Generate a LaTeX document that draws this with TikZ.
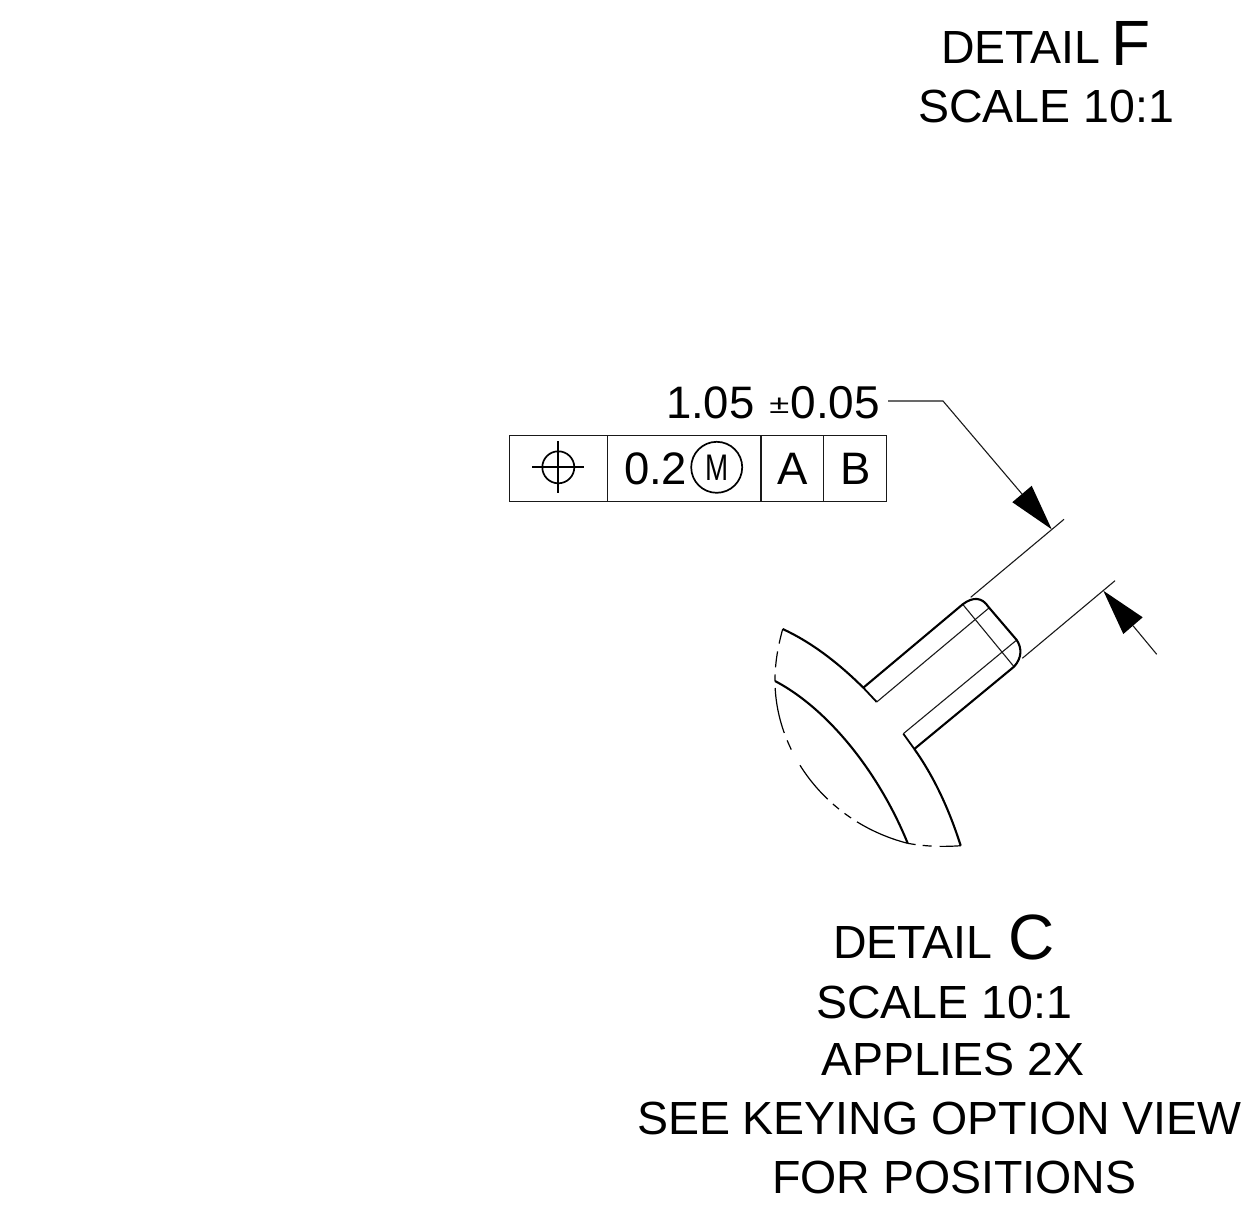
\documentclass[tikz,border=0pt]{standalone}
\usepackage{fontspec}
\setmainfont{Liberation Sans}
\tikzset{
  thinln/.style={line width=1.1pt,black!90},
  thickln/.style={line width=2.1pt,black,line join=round},
  midln/.style={line width=1.8pt,black},
  brk/.style={line width=1.2pt,black},
  txt/.style={anchor=base west,inner sep=0pt,outer sep=0pt,font=\fontsize{46.5}{50}\selectfont},
  big/.style={anchor=base west,inner sep=0pt,outer sep=0pt,font=\fontsize{64}{66}\selectfont},
  dim/.style={anchor=base west,inner sep=0pt,outer sep=0pt,font=\fontsize{45.5}{48}\selectfont},
  tip/.style={fill=black,draw=none},
  mark circle/.style={circle,draw,line width=1.7pt,inner sep=0pt,minimum size=#1}
}
\begin{document}
\begin{tikzpicture}[x=1pt,y=-1pt]
\useasboundingbox (0,0) rectangle (1241,1207);
% titles
\node[txt] (d1) at (941,63.5) {DETAIL};
\node[big] (f) at (1111,65) {F};
\node[txt] (s1) at (918,122.5) {SCALE 10:1};
\node[txt] (d2) at (833,958.5) {DETAIL};
\node[big] (c) at (1008.5,959.5) {C};
\node[txt] (s2) at (816,1018.5) {SCALE 10:1};
\node[txt] (ap) at (821,1075.5) {APPLIES 2X};
\node[txt] (see) at (637,1134.5) {SEE KEYING OPTION VIEW};
\node[txt] (pos) at (772,1193.5) {FOR POSITIONS};
% dimension text
\node[dim] (n1) at (666,418.5) {1.05};
\node[anchor=base west,inner sep=0pt,xscale=1.4,font=\fontsize{26}{28}\selectfont] (pm) at (769,413) {±};
\node[dim,font=\fontsize{46}{48}\selectfont] (n2) at (790.5,418.5) {0.05};
% frame
\coordinate (fa) at (509.3,435.3);
\coordinate (fb) at (886.7,501.7);
\draw[thinln] (fa) rectangle (fb);
\foreach \x in {607.7,761,823.3} \draw[thinln] (\x,435.3) -- (\x,501.7);
\node[mark circle=32pt] (pos0) at (558.3,467.3) {};
\draw[midln] (532.3,467.3) -- (584.3,467.3);
\draw[midln] (558.3,441.3) -- (558.3,493.3);
\node[dim] (v) at (624,484.5) {0.2};
\node[mark circle=51pt] (mm) at (716.7,467.3) {};
\node[inner sep=0pt,xscale=.75,font=\fontsize{37}{38}\selectfont] (mm2) at (716.7,467.3) {M};
\node[dim] (da) at (777,484.5) {A};
\node[dim] (db) at (840,484.5) {B};
% part
\draw[thickln] (782.7,629) .. controls (809.6,641.4) and (836.4,661) .. (863.3,687.7);
\draw[thickln] (914.3,749) .. controls (933.1,775.4) and (948.6,807.7) .. (960.7,845.7);
\draw[thickln] (775,681) .. controls (830,710) and (880,775) .. (907.7,843.3);
\draw[midln] (863.3,687.7) -- (876.7,702);
\draw[midln] (903.3,733.7) -- (914.3,749);
\draw[thinln] (876.7,702) -- (989.3,607.7);
\draw[thinln] (903.3,733.7) -- (1016.7,640);
\draw[thinln] (962.7,604.3) -- (1014,666.7);
\draw[thickln] (863.3,687.7) -- (962.7,604.3)
  .. controls (973,596.5) and (982,597) .. (988.5,607)
  -- (1016.7,640)
  .. controls (1022,648) and (1022,658) .. (1014,666.7)
  -- (914.3,749);
% broken-out edges
\draw[brk,dash pattern=on 0pt off 7pt on 46pt off 8pt on 10pt off 18pt on 44pt off 7pt on 8pt off 7pt on 8pt off 7pt on 50pt] (775,681) .. controls (775,750) and (825,822) .. (907.7,843.3);
\draw[brk,dash pattern=on 15pt off 8pt on 16pt off 7pt on 12pt] (782.7,629) .. controls (777,650) and (775,665) .. (775,681);
\draw[brk,dash pattern=on 8pt off 7pt on 9pt off 8pt on 24pt] (907.7,843.3) .. controls (925,846.5) and (943,847) .. (960.7,845.7);
% dimension
\coordinate (l0) at (888,401);
\coordinate (l1) at (943,401);
\coordinate (t1) at (1051.7,529.3);
\coordinate (t2) at (1103.3,590.7);
\coordinate (l2) at (1156.7,654.3);
\draw[thinln] (l0) -- (l1) -- (1022,494);
\fill[tip] (t1) -- (1031.7,485.8) -- (1012.3,502.2) -- cycle;
\draw[thinln] (970.7,597.3) -- (1064,519.3);
\draw[thinln] (1022.3,658.3) -- (1115,580.7);
\fill[tip] (t2) -- (1142.7,617.3) -- (1123.3,634) -- cycle;
\draw[thinln] (1133,625.7) -- (l2);
\end{tikzpicture}
\end{document}
